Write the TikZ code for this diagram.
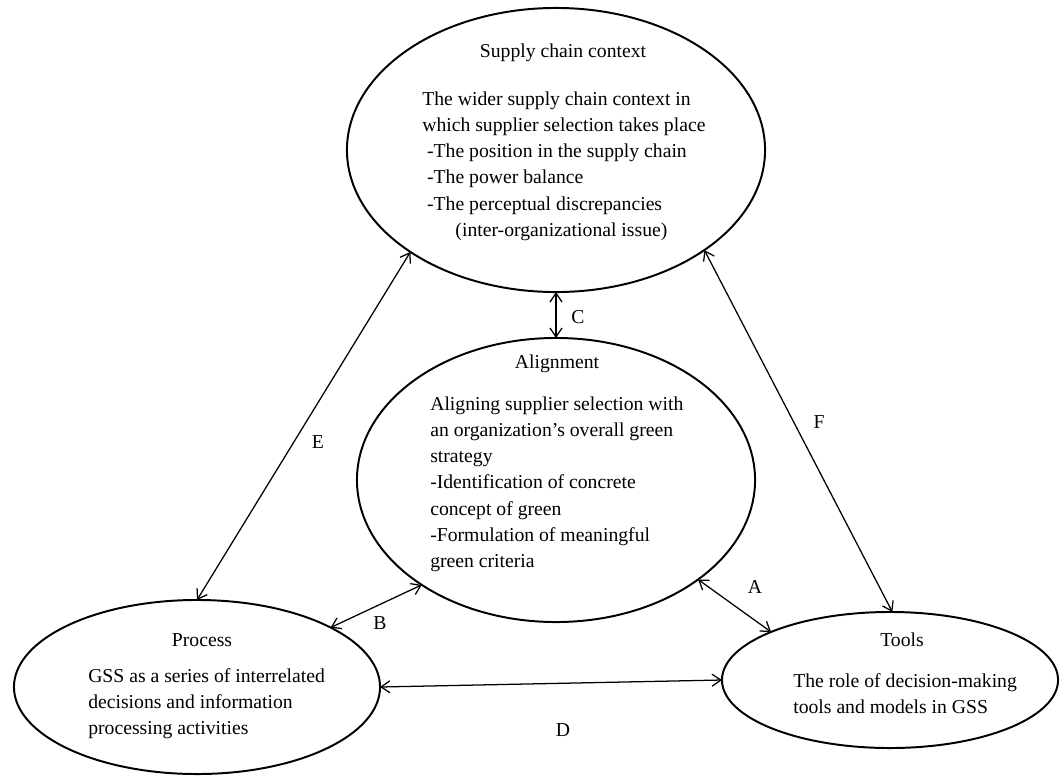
\documentclass[tikz,border=0pt]{standalone}
\usepackage{fontspec}
\setmainfont{Liberation Serif}
\usetikzlibrary{shapes.geometric}
\usetikzlibrary{arrows.meta}
\tikzset{
    ellip/.style = {ellipse, draw=black, line width=1.4pt, inner sep=0pt, outer sep=0pt},
    title/.style = {anchor=base, font=\fontsize{14}{18.5}\selectfont},
    body/.style = {anchor=north west, align=left, inner sep=0pt, font=\fontsize{14}{18.5}\selectfont},
    lbl/.style = {font=\fontsize{14}{18.5}\selectfont},
    edgen/.style = {{Straight Barb[length=2.2mm,width=3mm]}-{Straight Barb[length=2.2mm,width=3mm]}, line width=0.9pt},
}

\begin{document}
\begin{tikzpicture}[x=0.025cm, y=-0.025cm]
  \useasboundingbox (0,0) rectangle (1062,775);

  % the four ellipses
  \node[ellip, minimum width=10.45cm, minimum height=7.1cm] (supply) at (556,150) {};
  \node[ellip, minimum width=9.95cm, minimum height=7.1cm] (align) at (556,480) {};
  \node[ellip, minimum width=9.15cm, minimum height=4.35cm] (process) at (197,687) {};
  \node[ellip, minimum width=8.4cm, minimum height=3.4cm] (tools) at (890,680) {};

  % texts
  \node[title] (supplyt) at (563,58) {Supply chain context};
  \node[body] (supplyb) at (422,92) {The wider supply chain context in\\
    which supplier selection takes place\\
    \hspace*{0.12cm}-The position in the supply chain\\
    \hspace*{0.12cm}-The power balance\\
    \hspace*{0.12cm}-The perceptual discrepancies\\
    \hspace*{0.83cm}(inter-organizational issue)};

  \node[title] (alignt) at (557,368) {Alignment};
  \node[body] (alignb) at (430,397) {Aligning supplier selection with\\
    an organization’s overall green\\
    strategy\\
    -Identification of concrete\\
    concept of green\\
    -Formulation of meaningful\\
    green criteria};

  \node[title] (processt) at (202,646) {Process};
  \node[body] (processb) at (88,668) {GSS as a series of interrelated\\
    decisions and information\\
    processing activities};

  \node[title] (toolst) at (902,646) {Tools};
  \node[body] (toolsb) at (793,673) {The role of decision-making\\
    tools and models in GSS};

  % connectors
  \draw[edgen] (supply.270) -- (align.90);
  \draw[edgen] (supply.215) -- (process.90);
  \draw[edgen] (supply.326) -- (tools.88);
  \draw[edgen] (process.24) -- (align.218);
  \draw[edgen] (align.325) -- (tools.158);
  \draw[edgen] (process.0) -- (tools.180);

  % connector labels
  \node[lbl] (la) at (755,587) {A};
  \node[lbl] (lb) at (380,623) {B};
  \node[lbl] (lc) at (578,317) {C};
  \node[lbl] (ld) at (563,730) {D};
  \node[lbl] (le) at (318,442) {E};
  \node[lbl] (lf) at (819,422) {F};
\end{tikzpicture}
\end{document}
